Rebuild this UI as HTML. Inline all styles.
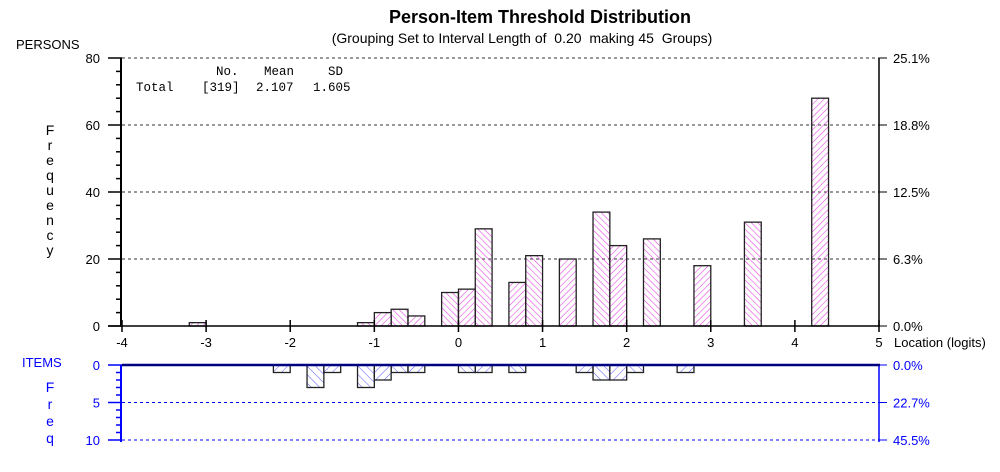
<!DOCTYPE html>
<html><head><meta charset="utf-8"><style>
body{margin:0;background:#fff;}
svg{display:block;font-family:"Liberation Sans",Arial,sans-serif;}
</style></head><body>
<svg id="chart" width="1000" height="472" viewBox="0 0 1000 472">
<defs>
<pattern id="hp1" width="4.5" height="4.5" patternUnits="userSpaceOnUse" patternTransform="rotate(45)"><line x1="0" y1="0" x2="0" y2="4.5" stroke="#e040e0" stroke-width="1.1"/></pattern>
<pattern id="hp2" width="4.5" height="4.5" patternUnits="userSpaceOnUse" patternTransform="rotate(-45)"><line x1="0" y1="0" x2="0" y2="4.5" stroke="#e040e0" stroke-width="1.1"/></pattern>
<pattern id="hi1" width="6" height="6" patternUnits="userSpaceOnUse" patternTransform="rotate(45)"><line x1="0" y1="0" x2="0" y2="6" stroke="#6060ff" stroke-width="1"/></pattern>
<pattern id="hi2" width="6" height="6" patternUnits="userSpaceOnUse" patternTransform="rotate(-45)"><line x1="0" y1="0" x2="0" y2="6" stroke="#6060ff" stroke-width="1"/></pattern>
</defs>
<text x="540" y="23" text-anchor="middle" font-size="18" font-weight="bold">Person-Item Threshold Distribution</text>
<text x="522" y="43" text-anchor="middle" font-size="14" xml:space="preserve">(Grouping Set to Interval Length of  0.20  making 45  Groups)</text>
<text x="16" y="49" font-size="13">PERSONS</text>
<text x="50" y="135" font-size="14" text-anchor="middle"><tspan x="50" dy="0">F</tspan><tspan x="50" dy="15">r</tspan><tspan x="50" dy="15">e</tspan><tspan x="50" dy="15">q</tspan><tspan x="50" dy="15">u</tspan><tspan x="50" dy="15">e</tspan><tspan x="50" dy="15">n</tspan><tspan x="50" dy="15">c</tspan><tspan x="50" dy="15">y</tspan></text>
<g font-family="Liberation Mono,monospace" font-size="12.5">
<text x="216" y="75">No.</text><text x="264" y="75">Mean</text><text x="328" y="75">SD</text>
<text x="136" y="91">Total</text><text x="202" y="91">[319]</text><text x="256" y="91">2.107</text><text x="313" y="91">1.605</text>
</g>
<text x="22" y="367" font-size="13" fill="#0000ff">ITEMS</text>
<text x="50" y="392" font-size="14" fill="#0000ff" text-anchor="middle"><tspan x="50" dy="0">F</tspan><tspan x="50" dy="17">r</tspan><tspan x="50" dy="17">e</tspan><tspan x="50" dy="17">q</tspan></text>
<text x="894" y="347" font-size="13">Location (logits)</text>
<g id="g"></g>
</svg>
<script>
const personBins=[-3.1,-1.1,-0.9,-0.7,-0.5,-0.1,0.1,0.3,0.7,0.9,1.3,1.7,1.9,2.3,2.9,3.5,4.3];
const personCounts=[1,1,4,5,3,10,11,29,13,21,20,34,24,26,18,31,68];
const itemBins=[-2.1,-1.7,-1.5,-1.1,-0.9,-0.7,-0.5,0.1,0.3,0.7,1.5,1.7,1.9,2.1,2.7];
const itemCounts=[1,3,1,3,2,1,1,1,1,1,1,2,2,1,1];
const xTicks=[-4,-3,-2,-1,0,1,2,3,4,5];
const yTicks=[0,20,40,60,80];
const yPctLabels=["0.0%","6.3%","12.5%","18.8%","25.1%"];
const iTicks=[0,5,10];
const iPctLabels=["0.0%","22.7%","45.5%"];
const binWidth=0.2;
const NS="http://www.w3.org/2000/svg";
const g=document.getElementById('g');
const X=v=>122+(v+4)*(879-122)/9;
const Y=v=>326-v*(326-58)/80;
const YI=v=>365+v*(440-365)/10;
function mk(t,a,p){const e=document.createElementNS(NS,t);for(const k in a)e.setAttribute(k,a[k]);(p||g).appendChild(e);return e;}
yTicks.forEach((t,i)=>{
 if(t>0){const l=mk('line',{x1:122,x2:879,y1:Y(t),y2:Y(t),stroke:'#333','stroke-dasharray':'3,3'});
 
 }
 const tl=mk('text',{x:100,y:Y(t)+5,'text-anchor':'end','font-size':13});tl.textContent=t;
 
 
 const pl=mk('text',{x:893,y:Y(t)+5,'font-size':13});pl.textContent=yPctLabels[i];
 
 
 mk('line',{x1:108,x2:122,y1:Y(t),y2:Y(t),stroke:'#000','stroke-width':1.5});
 mk('line',{x1:879,x2:887,y1:Y(t),y2:Y(t),stroke:'#000'});
});
for(let v=0;v<80;v+=4){if(v%20)mk('line',{x1:116,x2:122,y1:Y(v),y2:Y(v),stroke:'#000','stroke-width':1.5});}
personBins.forEach((b,i)=>{
 const r=mk('rect',{x:X(b-binWidth/2),y:Y(personCounts[i]),width:X(b+binWidth/2)-X(b-binWidth/2),height:Y(0)-Y(personCounts[i]),fill:'url(#hp'+(i%2?2:1)+')',stroke:'#222','stroke-width':1.3});
 
 
});
mk('line',{x1:121,x2:121,y1:58,y2:326,stroke:'#000','stroke-width':2});
mk('line',{x1:879,x2:879,y1:58,y2:326,stroke:'#000','stroke-width':1.5});
mk('line',{x1:108,x2:880,y1:326,y2:326,stroke:'#000','stroke-width':1.5});
xTicks.forEach(t=>{
 mk('line',{x1:X(t),x2:X(t),y1:320,y2:332,stroke:'#000','stroke-width':1.5});
 const tl=mk('text',{x:X(t),y:347,'text-anchor':'middle','font-size':13});tl.textContent=t;
 
 
});
iTicks.forEach((t,i)=>{
 if(t>0){const l=mk('line',{x1:122,x2:879,y1:YI(t),y2:YI(t),stroke:'#0000ff','stroke-dasharray':'3,3'});
 
 }
 const tl=mk('text',{x:100,y:YI(t)+5,'text-anchor':'end','font-size':13,fill:'#0000ff'});tl.textContent=t;
 
 
 const pl=mk('text',{x:893,y:YI(t)+5,'font-size':13,fill:'#0000ff'});pl.textContent=iPctLabels[i];
 
 
 mk('line',{x1:108,x2:122,y1:YI(t),y2:YI(t),stroke:'#0000ff','stroke-width':1.5});
 mk('line',{x1:879,x2:887,y1:YI(t),y2:YI(t),stroke:'#0000ff'});
});
for(let v=1;v<10;v++){if(v%5)mk('line',{x1:116,x2:122,y1:YI(v),y2:YI(v),stroke:'#0000ff','stroke-width':1.5});}
itemBins.forEach((b,i)=>{
 const r=mk('rect',{x:X(b-binWidth/2),y:YI(0),width:X(b+binWidth/2)-X(b-binWidth/2),height:YI(itemCounts[i])-YI(0),fill:'url(#hi'+(i%2?2:1)+')',stroke:'#222','stroke-width':1.3});
 
 
});
mk('line',{x1:121,x2:121,y1:365,y2:442,stroke:'#0000ff','stroke-width':2});
mk('line',{x1:879,x2:879,y1:365,y2:442,stroke:'#0000ff','stroke-width':1.5});
mk('line',{x1:122,x2:880,y1:365,y2:365,stroke:'#000080','stroke-width':2.5});
</script>
</body></html>
